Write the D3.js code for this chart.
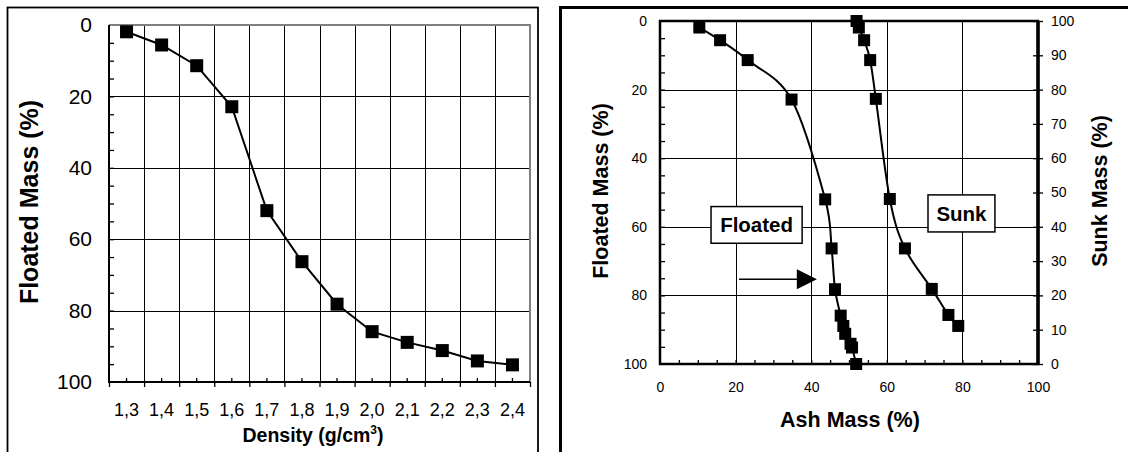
<!DOCTYPE html>
<html>
<head>
<meta charset="utf-8">
<script src="https://cdn.jsdelivr.net/npm/d3@7"></script>
<style>
    body { margin: 0; background: #fff; }
    svg { display: block; font-family: "Liberation Sans", Arial, sans-serif; }
    .grid line { stroke: #000; stroke-width: 1; shape-rendering: crispEdges; }
    .grid path { display: none; }
    .minor path { display: none; }
    .minor line { stroke: #000; stroke-width: 1.3; }
    .lbl path, .lbl line { display: none; }
</style>
</head>
<body>
<svg id="chart" width="1128" height="452"></svg>
<script>
// ---- data ----
// left chart: floated mass against density class
var densities = ["1,3", "1,4", "1,5", "1,6", "1,7", "1,8", "1,9", "2,0", "2,1", "2,2", "2,3", "2,4"];
var floatedByDensity = [1.9, 5.6, 11.4, 22.9, 52.0, 66.3, 78.2, 85.9, 88.9, 91.2, 94.1, 95.2];

// right chart: floated curve (ash %, floated mass %)
var floatedAsh  = [10.4, 15.9, 23.2, 34.8, 43.7, 45.4, 46.3, 47.8, 48.5, 49.0, 50.4, 50.8, 51.9];
var floatedMass = [1.9, 5.6, 11.4, 22.9, 52.0, 66.3, 78.2, 85.9, 88.9, 91.2, 94.1, 95.2, 100];

// right chart: sunk curve (ash %, sunk mass %)
var sunkAsh  = [52.0, 52.6, 54.0, 55.6, 57.1, 60.8, 64.8, 71.9, 76.3, 78.9];
var sunkMass = [100, 98.1, 94.4, 88.6, 77.3, 48.1, 33.7, 21.9, 14.3, 11.1];

var massTicks = [0, 20, 40, 60, 80, 100];
var ashTicks = [0, 20, 40, 60, 80, 100];
var sunkTicks = [0, 10, 20, 30, 40, 50, 60, 70, 80, 90, 100];

var svg = d3.select("#chart");

// frames around the two charts
svg.append("rect")
    .attr("x", 7.5).attr("y", 7.5)
    .attr("width", 530.5).attr("height", 520)
    .attr("fill", "none").attr("stroke", "#000").attr("stroke-width", 1.8);

svg.append("rect")
    .attr("x", 560.5).attr("y", 7.5)
    .attr("width", 620).attr("height", 520)
    .attr("fill", "none").attr("stroke", "#000").attr("stroke-width", 3);

// ================= left chart =================
var L = {left: 109, right: 530, top: 25, bottom: 382};

var xBand = d3.scaleBand()
    .domain(densities)
    .range([L.left, L.right])
    .paddingInner(0).paddingOuter(0);

// boundaries between density classes
var xEdge = d3.scaleLinear()
    .domain([0, densities.length])
    .range([L.left, L.right]);

var yL = d3.scaleLinear()
    .domain([0, 100])
    .range([L.top, L.bottom]);

var gl = svg.append("g");

// horizontal gridlines
gl.append("g")
    .attr("class", "grid")
    .attr("transform", "translate(" + L.left + ",0)")
    .call(d3.axisLeft(yL).tickValues([20, 40, 60, 80])
        .tickSize(-(L.right - L.left)).tickFormat(""));

// vertical gridlines on class boundaries
gl.append("g")
    .attr("class", "grid")
    .attr("transform", "translate(0," + L.bottom + ")")
    .call(d3.axisBottom(xEdge).tickValues(d3.range(1, densities.length))
        .tickSize(-(L.bottom - L.top)).tickFormat(""));

// grey plot border top / right
gl.append("path")
    .attr("d", "M" + L.left + "," + L.top + "H" + L.right + "V" + L.bottom)
    .attr("fill", "none").attr("stroke", "#808080").attr("stroke-width", 2);

// minor y ticks (inward)
gl.append("g")
    .attr("class", "minor")
    .attr("transform", "translate(" + L.left + ",0)")
    .call(d3.axisRight(yL).tickValues(d3.range(5, 100, 5)).tickSize(5).tickFormat(""));

// x ticks: outward on boundaries, inward at centres
gl.append("g")
    .attr("class", "minor")
    .attr("transform", "translate(0," + L.bottom + ")")
    .call(d3.axisBottom(xEdge).tickValues(d3.range(0, densities.length + 1)).tickSize(5).tickFormat(""));
gl.append("g")
    .attr("class", "minor")
    .attr("transform", "translate(0," + L.bottom + ")")
    .call(d3.axisTop(xBand).tickSize(4).tickFormat(""));

// axis lines
gl.append("path")
    .attr("d", "M" + L.left + "," + L.top + "V" + L.bottom + "H" + L.right)
    .attr("fill", "none").attr("stroke", "#000").attr("stroke-width", 2);

// tick labels
gl.append("g")
    .attr("class", "lbl")
    .attr("transform", "translate(" + L.left + ",0)")
    .call(d3.axisLeft(yL).tickValues(massTicks).tickSize(0).tickPadding(17))
    .selectAll("text")
    .attr("font-size", 21).attr("font-family", "Liberation Sans, Arial").attr("fill", "#000");

gl.append("g")
    .attr("class", "lbl")
    .attr("transform", "translate(0," + L.bottom + ")")
    .call(d3.axisBottom(xBand).tickSize(0).tickPadding(0))
    .selectAll("text")
    .attr("dy", null).attr("y", 34)
    .attr("font-size", 18).attr("font-family", "Liberation Sans, Arial").attr("fill", "#000");

// axis titles
var dTitle = gl.append("text")
    .attr("x", 313).attr("y", 442)
    .attr("text-anchor", "middle")
    .attr("font-size", 19.5).attr("font-weight", "bold");
dTitle.append("tspan").text("Density (g/cm");
dTitle.append("tspan").attr("font-size", 12).attr("dy", -8).text("3");
dTitle.append("tspan").attr("dy", 8).text(")");

gl.append("text")
    .attr("transform", "translate(38,202) rotate(-90)")
    .attr("text-anchor", "middle")
    .attr("font-size", 25).attr("font-weight", "bold")
    .text("Floated Mass (%)");

// line + markers
var leftLine = d3.line()
    .x(function (d, i) { return xBand(densities[i]) + xBand.bandwidth() / 2; })
    .y(function (d) { return yL(d); });

gl.append("path")
    .datum(floatedByDensity)
    .attr("d", leftLine)
    .attr("fill", "none").attr("stroke", "#000").attr("stroke-width", 2);

gl.selectAll(".lm")
    .data(floatedByDensity)
    .enter().append("rect")
    .attr("x", function (d, i) { return xBand(densities[i]) + xBand.bandwidth() / 2 - 6.5; })
    .attr("y", function (d) { return yL(d) - 6.5; })
    .attr("width", 13).attr("height", 13)
    .attr("fill", "#000");

// ================= right chart =================
var R = {left: 660, right: 1038, top: 21, bottom: 364};

var xR = d3.scaleLinear().domain([0, 100]).range([R.left, R.right]);
var yR = d3.scaleLinear().domain([0, 100]).range([R.top, R.bottom]);   // floated (left axis)
var yS = d3.scaleLinear().domain([0, 100]).range([R.bottom, R.top]);   // sunk (right axis)

var gr = svg.append("g");

gr.append("g")
    .attr("class", "grid")
    .attr("transform", "translate(" + R.left + ",0)")
    .call(d3.axisLeft(yR).tickValues([20, 40, 60, 80])
        .tickSize(-(R.right - R.left)).tickFormat(""));

gr.append("g")
    .attr("class", "grid")
    .attr("transform", "translate(0," + R.bottom + ")")
    .call(d3.axisBottom(xR).tickValues([20, 40, 60, 80])
        .tickSize(-(R.bottom - R.top)).tickFormat(""));

// minor ticks inward
gr.append("g")
    .attr("class", "minor")
    .attr("transform", "translate(" + R.left + ",0)")
    .call(d3.axisRight(yR).tickValues(d3.range(5, 100, 5)).tickSize(5).tickFormat(""));
gr.append("g")
    .attr("class", "minor")
    .attr("transform", "translate(0," + R.bottom + ")")
    .call(d3.axisTop(xR).tickValues(d3.range(5, 100, 5)).tickSize(4).tickFormat(""));

// right axis: crossing ticks
gr.append("g")
    .attr("class", "minor")
    .attr("transform", "translate(" + (R.right - 5) + ",0)")
    .call(d3.axisRight(yS).tickValues(sunkTicks).tickSize(10).tickFormat(""))
    .selectAll("line").attr("stroke-width", 2.5);

// frame of the plot area
gr.append("rect")
    .attr("x", R.left).attr("y", R.top)
    .attr("width", R.right - R.left).attr("height", R.bottom - R.top)
    .attr("fill", "none").attr("stroke", "#000").attr("stroke-width", 2.5);
gr.append("line")
    .attr("x1", R.right).attr("x2", R.right)
    .attr("y1", R.top).attr("y2", R.bottom)
    .attr("stroke", "#000").attr("stroke-width", 3.5);

gr.append("g")
    .attr("class", "lbl")
    .attr("transform", "translate(" + R.left + ",0)")
    .call(d3.axisLeft(yR).tickValues(massTicks).tickSize(0).tickPadding(13))
    .selectAll("text")
    .attr("font-size", 14).attr("font-family", "Liberation Sans, Arial").attr("fill", "#000");

gr.append("g")
    .attr("class", "lbl")
    .attr("transform", "translate(0," + R.bottom + ")")
    .call(d3.axisBottom(xR).tickValues(ashTicks).tickSize(0).tickPadding(0))
    .selectAll("text")
    .attr("dy", null).attr("y", 28)
    .attr("font-size", 14).attr("font-family", "Liberation Sans, Arial").attr("fill", "#000");

gr.append("g")
    .attr("class", "lbl")
    .attr("transform", "translate(" + R.right + ",0)")
    .call(d3.axisRight(yS).tickValues(sunkTicks).tickSize(0).tickPadding(13))
    .selectAll("text")
    .attr("font-size", 14).attr("font-family", "Liberation Sans, Arial").attr("fill", "#000");

gr.append("text")
    .attr("x", 850).attr("y", 427)
    .attr("text-anchor", "middle")
    .attr("font-size", 21.5).attr("font-weight", "bold")
    .text("Ash Mass (%)");

gr.append("text")
    .attr("transform", "translate(608,191) rotate(-90)")
    .attr("text-anchor", "middle")
    .attr("font-size", 21.5).attr("font-weight", "bold")
    .text("Floated Mass (%)");

gr.append("text")
    .attr("transform", "translate(1107,191) rotate(-90)")
    .attr("text-anchor", "middle")
    .attr("font-size", 21.5).attr("font-weight", "bold")
    .text("Sunk Mass (%)");

// smoothed curves
var floatedLine = d3.line()
    .x(function (d, i) { return xR(floatedAsh[i]); })
    .y(function (d) { return yR(d); })
    .curve(d3.curveCardinal.tension(0));

var sunkLine = d3.line()
    .x(function (d, i) { return xR(sunkAsh[i]); })
    .y(function (d) { return yS(d); })
    .curve(d3.curveCardinal.tension(0));

gr.append("path").datum(floatedMass).attr("d", floatedLine)
    .attr("fill", "none").attr("stroke", "#000").attr("stroke-width", 2);
gr.append("path").datum(sunkMass).attr("d", sunkLine)
    .attr("fill", "none").attr("stroke", "#000").attr("stroke-width", 2);

gr.selectAll(".fm")
    .data(floatedMass)
    .enter().append("rect")
    .attr("x", function (d, i) { return xR(floatedAsh[i]) - 6; })
    .attr("y", function (d) { return yR(d) - 6; })
    .attr("width", 12).attr("height", 12)
    .attr("fill", "#000");

gr.selectAll(".sm")
    .data(sunkMass)
    .enter().append("rect")
    .attr("x", function (d, i) { return xR(sunkAsh[i]) - 6; })
    .attr("y", function (d) { return yS(d) - 6; })
    .attr("width", 12).attr("height", 12)
    .attr("fill", "#000");

// labels in boxes
function boxLabel(txt, x0, x1, y0, y1) {
    var g = gr.append("g");
    g.append("rect")
        .attr("x", xR(x0)).attr("y", yR(y0))
        .attr("width", xR(x1) - xR(x0)).attr("height", yR(y1) - yR(y0))
        .attr("fill", "#fff").attr("stroke", "#000").attr("stroke-width", 1.5);
    g.append("text")
        .attr("x", (xR(x0) + xR(x1)) / 2)
        .attr("y", (yR(y0) + yR(y1)) / 2)
        .attr("dy", "0.36em")
        .attr("text-anchor", "middle")
        .attr("font-size", 20.5).attr("font-weight", "bold")
        .text(txt);
}
boxLabel("Floated", 13.5, 37.6, 54.1, 64.8);
boxLabel("Sunk", 70.9, 88.6, 50.7, 61.5);

// arrow
gr.append("line")
    .attr("x1", xR(20.9)).attr("x2", xR(36.5))
    .attr("y1", yR(75.3)).attr("y2", yR(75.3))
    .attr("stroke", "#000").attr("stroke-width", 1.5);
gr.append("path")
    .attr("d", "M" + xR(41.5) + "," + yR(75.3) +
        "L" + xR(36.2) + "," + (yR(75.3) - 10) +
        "L" + xR(36.2) + "," + (yR(75.3) + 10) + "Z")
    .attr("fill", "#000");
</script>
</body>
</html>
